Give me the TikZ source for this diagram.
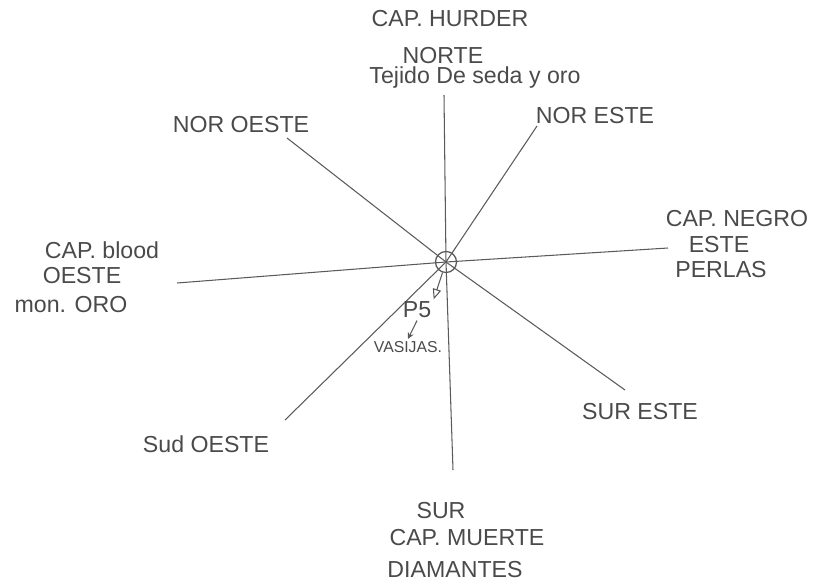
\documentclass[tikz,border=0pt]{standalone}
\usepackage{fontspec}
\setmainfont{Liberation Sans}
\usetikzlibrary{arrows.meta,positioning}
\definecolor{pencil}{HTML}{4A4A4A}
\definecolor{lead}{HTML}{5A5A5A}

\begin{document}
\begin{tikzpicture}[x=0.475pt,y=-0.475pt,font=\fontsize{11}{13}\selectfont,
    lbl/.style={text=pencil,inner sep=1pt},
    ray/.style={lead,line width=0.5pt}]
        \useasboundingbox (0,0) rectangle (814,584);
        % centre of the rose
        \node[draw=lead,circle,line width=0.6pt,minimum size=10pt,inner sep=0pt] (c) at (446,262) {};
        % ends of the eight rays
        \coordinate (n) at (444,95);
        \coordinate (s) at (453,470);
        \coordinate (e) at (668,248);
        \coordinate (w) at (177,283);
        \coordinate (ne) at (537,126);
        \coordinate (nw) at (287,138);
        \coordinate (se) at (625,390);
        \coordinate (sw) at (285,420);
        \foreach \d in {n,s,e,w,ne,nw,se,sw}
          \draw[ray] (c.center) -- (\d);
        % north
        \node[lbl] (hurder) at (450,19) {CAP. HURDER};
        \node[lbl] (norte) at (443,56) {NORTE};
        \node[lbl] (seda) at (475,78) {Tejido De seda y oro};
        % east
        \node[lbl] (negro) at (737,219) {CAP. NEGRO};
        \node[lbl] (este) at (719,245) {ESTE};
        \node[lbl] (perlas) at (721,270) {PERLAS};
        % west
        \node[lbl] (blood) at (102,250) {CAP. blood};
        \node[lbl] (oeste) at (82,276) {OESTE};
        \node[lbl] (oro) at (71,305) {mon. ORO};
        % south
        \node[lbl] (sur) at (441,511) {SUR};
        \node[lbl] (muerte) at (467,538) {CAP. MUERTE};
        \node[lbl] (diam) at (455,570) {DIAMANTES};
        % diagonals
        \node[lbl] (noroeste) at (241,125) {NOR OESTE};
        \node[lbl] (noreste) at (595,116) {NOR ESTE};
        \node[lbl] (sudoeste) at (206,444) {Sud OESTE};
        \node[lbl] (sureste) at (640,412) {SUR ESTE};
        % treasure point
        \node[lbl] (p5) at (417,310) {P5};
        \node[lbl,font=\fontsize{7.5}{9}\selectfont] (vasijas) at (408,347) {VASIJAS.};
        \draw[ray,-{Triangle[open,length=5pt,width=4pt]}] (c) -- (p5.north east);
        \draw[ray,-{Stealth[length=3pt,width=3pt]}] (p5.south) -- (vasijas.north);
      \end{tikzpicture}
\end{document}
